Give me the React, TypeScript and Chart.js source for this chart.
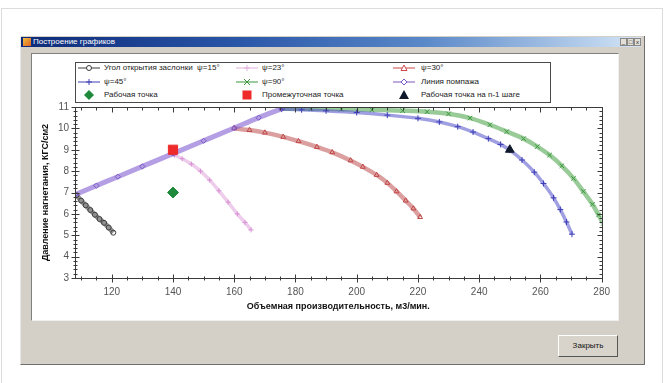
import React, { useEffect, useRef } from "react";
import { Chart, registerables } from "chart.js";
Chart.register(...registerables);

// ---- data ----
const X_MIN = 108;
const X_MAX = 280;
const Y_MIN = 3;
const Y_MAX = 11;
const X_STEP = 20;
const Y_STEP = 1;

const psi15X = [108.5, 110, 111.5, 113, 114.5, 116, 117.5, 119, 120.5];
const psi15Y = [6.88, 6.62, 6.4, 6.18, 5.96, 5.76, 5.58, 5.36, 5.12];

const psi23X = [140.5, 143, 146, 149, 152, 155, 158, 161, 163.5, 165.5];
const psi23Y = [8.75, 8.58, 8.33, 8.0, 7.58, 7.08, 6.55, 6.0, 5.6, 5.25];

const psi30X = [160, 165, 170, 176, 181, 187, 192, 198, 202, 206.5, 210, 213, 216, 218.5, 220.7];
const psi30Y = [10.0, 9.92, 9.8, 9.6, 9.4, 9.13, 8.88, 8.5, 8.2, 7.82, 7.45, 7.05, 6.62, 6.25, 5.85];

const psi45X = [175.5, 182, 190, 200, 210, 220, 227, 233, 238, 243, 247, 250, 254, 258, 261, 264.3, 266.5, 268.5, 270.3];
const psi45Y = [10.9, 10.87, 10.82, 10.74, 10.62, 10.47, 10.3, 10.08, 9.83, 9.52, 9.25, 8.98, 8.52, 7.95, 7.42, 6.75, 6.2, 5.62, 5.05];

const psi90X = [175.5, 185, 195, 205, 215, 223, 230, 237, 243.5, 249, 254.5, 259, 263, 267, 270.8, 274, 277, 279, 280.5];
const psi90Y = [10.92, 10.92, 10.9, 10.87, 10.83, 10.78, 10.68, 10.48, 10.17, 9.85, 9.52, 9.15, 8.75, 8.25, 7.66, 7.05, 6.45, 5.95, 5.55];

const surgeX = [108, 115, 122, 130, 140, 150, 160, 168, 175.5];
const surgeY = [6.9, 7.32, 7.74, 8.22, 8.82, 9.42, 10.02, 10.5, 10.92];

const workPointX = [140];
const workPointY = [7.0];
const midPointX = [140];
const midPointY = [9.0];
const prevPointX = [250];
const prevPointY = [9.0];

const seriesNames = [
  "Угол открытия заслонки  ψ=15°",
  "ψ=23°",
  "ψ=30°",
  "ψ=45°",
  "ψ=90°",
  "Линия помпажа",
  "Рабочая точка",
  "Промежуточная точка",
  "Рабочая точка на n-1 шаге",
];

const X_TITLE = "Объемная производительность, м3/мин.";
const Y_TITLE = "Давление нагнетания, КГС/см2";
const WINDOW_TITLE = "Построение графиков";
const BUTTON_TEXT = "Закрыть";

const FONT = '"Liberation Sans", Arial, sans-serif';

const zip = (xs: number[], ys: number[]) => xs.map((x, i) => ({ x, y: ys[i] }));

const framePlugin = {
  id: "frameTicks",
  afterDatasetsDraw(chart: any) {
    const { ctx, chartArea: a, scales } = chart;
    const xs = scales.x;
    const ys = scales.y;
    ctx.save();
    ctx.strokeStyle = "#3a3a3a";
    ctx.lineWidth = 1;
    const L = Math.round(a.left) + 0.5;
    const R = Math.round(a.right) + 0.5;
    const T = Math.round(a.top) + 0.5;
    const B = Math.round(a.bottom) + 0.5;
    ctx.strokeRect(L, T, R - L, B - T);
    ctx.beginPath();
    for (let i = 0; ; i++) {
      const v = 110 + i * 5;
      if (v > X_MAX) break;
      const px = Math.round(xs.getPixelForValue(v)) + 0.5;
      const major = v % X_STEP === 0;
      const len = major ? 4 : 2;
      ctx.moveTo(px, B - len);
      ctx.lineTo(px, B + len);
      ctx.moveTo(px, T);
      ctx.lineTo(px, T + len + 1);
    }
    for (let i = 0; i <= 40; i++) {
      const v = Y_MIN + i * 0.2;
      const py = Math.round(ys.getPixelForValue(v)) + 0.5;
      const major = i % 5 === 0;
      const len = major ? 4 : 2;
      ctx.moveTo(L - len, py);
      ctx.lineTo(L + len, py);
      ctx.moveTo(R, py);
      ctx.lineTo(R - len - 1, py);
    }
    ctx.stroke();
    ctx.restore();
  },
};

function lineDs(label: string, xs: number[], ys: number[], color: string, band: string, style: string, r: number, order: number, bw = 4.5) {
  return {
    label,
    data: zip(xs, ys),
    showLine: true,
    borderColor: band,
    borderWidth: bw,
    cubicInterpolationMode: "monotone",
    pointStyle: style,
    pointRadius: r,
    pointBorderColor: color,
    pointBackgroundColor: "rgba(255,255,255,0)",
    pointBorderWidth: 1,
    order,
  };
}

function ChartCanvas() {
  const ref = useRef<HTMLCanvasElement | null>(null);
  useEffect(() => {
    if (!ref.current) return;
    const chart = new Chart(ref.current, {
      type: "scatter",
      data: {
        datasets: [
          {
            label: seriesNames[6],
            data: zip(workPointX, workPointY),
            pointStyle: "rectRot",
            pointRadius: 5.5,
            backgroundColor: "#1f8a3c",
            borderColor: "#1f8a3c",
            order: 0,
          },
          {
            label: seriesNames[7],
            data: zip(midPointX, midPointY),
            pointStyle: "rect",
            pointRadius: 6.5,
            backgroundColor: "#ee2a2a",
            borderColor: "#ee2a2a",
            order: 0,
          },
          {
            label: seriesNames[8],
            data: zip(prevPointX, prevPointY),
            pointStyle: "triangle",
            pointRadius: 5,
            backgroundColor: "#10182c",
            borderColor: "#10182c",
            order: 0,
          },
          lineDs(seriesNames[0], psi15X, psi15Y, "#3c3c3c", "rgba(70,70,70,0.6)", "circle", 2.5, 5, 5),
          lineDs(seriesNames[1], psi23X, psi23Y, "#d890d4", "rgba(226,170,222,0.6)", "cross", 2.5, 5, 3.5),
          lineDs(seriesNames[2], psi30X, psi30Y, "#c04444", "rgba(192,80,80,0.55)", "triangle", 2.8, 4),
          lineDs(seriesNames[3], psi45X, psi45Y, "#3e3eb8", "rgba(80,80,200,0.55)", "cross", 3, 3, 3.5),
          lineDs(seriesNames[4], psi90X, psi90Y, "#3a963a", "rgba(70,160,70,0.55)", "crossRot", 3.2, 4),
          lineDs(seriesNames[5], surgeX, surgeY, "#7a56c4", "rgba(130,95,210,0.6)", "rectRot", 2.6, 2, 5),
        ] as any,
      },
      options: {
        animation: false,
        responsive: false,
        devicePixelRatio: 1,
        layout: { padding: { left: 0, right: 16, top: 53, bottom: 0 } },
        plugins: { legend: { display: false }, tooltip: { enabled: false } },
        scales: {
          x: {
            type: "linear",
            min: X_MIN,
            max: X_MAX,
            grid: { display: false, drawTicks: false, tickLength: 0 },
            border: { display: false },
            ticks: {
              stepSize: X_STEP,
              includeBounds: false,
              padding: 8,
              color: "#555",
              font: { family: FONT, size: 10 },
              maxRotation: 0,
            },
            title: {
              display: true,
              text: X_TITLE,
              color: "#111",
              font: { family: FONT, size: 9, weight: "bold" },
              padding: { top: 0, bottom: 8 },
            },
            afterFit: (s: any) => {
              s.height = 42;
            },
          },
          y: {
            type: "linear",
            min: Y_MIN,
            max: Y_MAX,
            grid: { display: false, drawTicks: false, tickLength: 0 },
            border: { display: false },
            ticks: {
              stepSize: Y_STEP,
              padding: 6,
              color: "#555",
              font: { family: FONT, size: 10 },
            },
            title: {
              display: true,
              text: Y_TITLE,
              color: "#111",
              font: { family: FONT, size: 9, weight: "bold" },
              padding: { top: 8, bottom: 0 },
            },
            afterFit: (s: any) => {
              s.width = 43;
            },
          },
        },
      } as any,
      plugins: [framePlugin],
    });
    return () => chart.destroy();
  }, []);
  return (
    <canvas
      ref={ref}
      width={586}
      height={266}
      style={{ position: "absolute", left: 32, top: 54, width: 586, height: 266 }}
    />
  );
}

function Sym({ kind, color, line }: { kind: string; color: string; line: boolean }) {
  const cx = 11;
  const cy = 5;
  let m: any = null;
  if (kind === "circle") m = <circle cx={cx} cy={cy} r={2.5} fill="white" stroke={color} strokeWidth={1} />;
  if (kind === "plus")
    m = <path d={`M${cx - 3} ${cy}H${cx + 3}M${cx} ${cy - 3}V${cy + 3}`} stroke={color} strokeWidth={1} />;
  if (kind === "x")
    m = <path d={`M${cx - 3} ${cy - 3}L${cx + 3} ${cy + 3}M${cx + 3} ${cy - 3}L${cx - 3} ${cy + 3}`} stroke={color} strokeWidth={1} />;
  if (kind === "tri")
    m = <polygon points={`${cx},${cy - 3} ${cx + 3},${cy + 2.5} ${cx - 3},${cy + 2.5}`} fill="white" stroke={color} strokeWidth={1} />;
  if (kind === "diam")
    m = <polygon points={`${cx},${cy - 3} ${cx + 3},${cy} ${cx},${cy + 3} ${cx - 3},${cy}`} fill="white" stroke={color} strokeWidth={1} />;
  if (kind === "fdiam")
    m = <polygon points={`${cx},${cy - 5} ${cx + 5},${cy} ${cx},${cy + 5} ${cx - 5},${cy}`} fill={color} />;
  if (kind === "fsq") m = <rect x={cx - 4.5} y={cy - 4.5} width={9} height={9} fill={color} />;
  if (kind === "ftri") m = <polygon points={`${cx},${cy - 5} ${cx + 5},${cy + 4} ${cx - 5},${cy + 4}`} fill={color} />;
  return (
    <svg width={22} height={10} style={{ position: "absolute", left: 0, top: 0, overflow: "visible" }}>
      {line && <line x1={0} y1={cy} x2={22} y2={cy} stroke={color} strokeWidth={1} />}
      {m}
    </svg>
  );
}

const legendItems = [
  { name: seriesNames[0], kind: "circle", color: "#3c3c3c", line: true, col: 0, row: 0 },
  { name: seriesNames[1], kind: "plus", color: "#e0b0dc", line: true, col: 1, row: 0 },
  { name: seriesNames[2], kind: "tri", color: "#d04848", line: true, col: 2, row: 0 },
  { name: seriesNames[3], kind: "plus", color: "#3e3eb8", line: true, col: 0, row: 1 },
  { name: seriesNames[4], kind: "x", color: "#3a963a", line: true, col: 1, row: 1 },
  { name: seriesNames[5], kind: "diam", color: "#7a56c4", line: true, col: 2, row: 1 },
  { name: seriesNames[6], kind: "fdiam", color: "#1f8a3c", line: false, col: 0, row: 2 },
  { name: seriesNames[7], kind: "fsq", color: "#ee2a2a", line: false, col: 1, row: 2 },
  { name: seriesNames[8], kind: "ftri", color: "#10182c", line: false, col: 2, row: 2 },
];

const colSym = [78, 236, 393];
const colText = [104, 262, 421];
const rowY = [68, 81.5, 95];

function Legend() {
  return (
    <>
      <div
        style={{
          position: "absolute",
          left: 75,
          top: 62,
          width: 474,
          height: 39,
          border: "1px solid #4a4a4a",
          background: "white",
        }}
      />
      {legendItems.map((it, i) => (
        <React.Fragment key={i}>
          <div style={{ position: "absolute", left: colSym[it.col], top: rowY[it.row] - 5, width: 22, height: 10 }}>
            <Sym kind={it.kind} color={it.color} line={it.line} />
          </div>
          <div
            style={{
              position: "absolute",
              left: colText[it.col],
              top: rowY[it.row] - 6,
              height: 12,
              lineHeight: "12px",
              fontFamily: FONT,
              fontSize: 8,
              color: "#222",
              whiteSpace: "pre",
            }}
          >
            {it.name}
          </div>
        </React.Fragment>
      ))}
    </>
  );
}

export default function App() {
  return (
    <div style={{ position: "fixed", left: 0, top: 0, width: 669, height: 383, background: "white", overflow: "hidden" }}>
      <div style={{ position: "absolute", left: 1, top: 8, width: 662, height: 380, border: "1px solid #dcdcdc", boxSizing: "border-box" }} />
      {/* window */}
      <div
        style={{
          position: "absolute",
          left: 20,
          top: 36,
          width: 625,
          height: 329,
          background: "#d4d0c8",
          borderRight: "1px solid #6e6e6e",
          borderBottom: "1px solid #6e6e6e",
          borderLeft: "1px solid #e8e8e8",
          boxSizing: "border-box",
        }}
      />
      {/* title bar */}
      <div
        style={{
          position: "absolute",
          left: 21,
          top: 37,
          width: 620,
          height: 10,
          background: "linear-gradient(to right, #0c2a78 0%, #2a56a8 35%, #5a88c8 65%, #c2d8f0 95%, #d8e4f0 100%)",
        }}
      />
      <div style={{ position: "absolute", left: 23, top: 38, width: 8, height: 8, background: "linear-gradient(135deg,#f0c040,#e06020)" }} />
      <div
        style={{
          position: "absolute",
          left: 33,
          top: 36,
          height: 12,
          lineHeight: "12px",
          fontFamily: FONT,
          fontSize: 8,
          color: "white",
          whiteSpace: "nowrap",
        }}
      >
        {WINDOW_TITLE}
      </div>
      {["_", "□", "x"].map((g, i) => (
        <div
          key={i}
          style={{
            position: "absolute",
            left: 620 + i * 7,
            top: 38,
            width: 7,
            height: 8,
            background: "#e4e0d8",
            border: "1px solid #888",
            boxSizing: "border-box",
            fontFamily: FONT,
            fontSize: 6,
            lineHeight: "6px",
            textAlign: "center",
            color: "#222",
          }}
        >
          {g}
        </div>
      ))}
      {/* white chart panel */}
      <div
        style={{
          position: "absolute",
          left: 31,
          top: 53,
          width: 588,
          height: 268,
          background: "white",
          borderTop: "1px solid #808080",
          borderLeft: "1px solid #808080",
          borderRight: "1px solid #f0f0f0",
          borderBottom: "1px solid #f0f0f0",
          boxSizing: "border-box",
        }}
      />
      <ChartCanvas />
      <Legend />
      {/* close button */}
      <div
        style={{
          position: "absolute",
          left: 558,
          top: 335,
          width: 60,
          height: 22,
          background: "#d8d4cc",
          borderTop: "1px solid #ffffff",
          borderLeft: "1px solid #ffffff",
          borderRight: "1px solid #555",
          borderBottom: "1px solid #555",
          boxSizing: "border-box",
          fontFamily: FONT,
          fontSize: 8,
          lineHeight: "20px",
          textAlign: "center",
          color: "#111",
        }}
      >
        {BUTTON_TEXT}
      </div>
    </div>
  );
}
